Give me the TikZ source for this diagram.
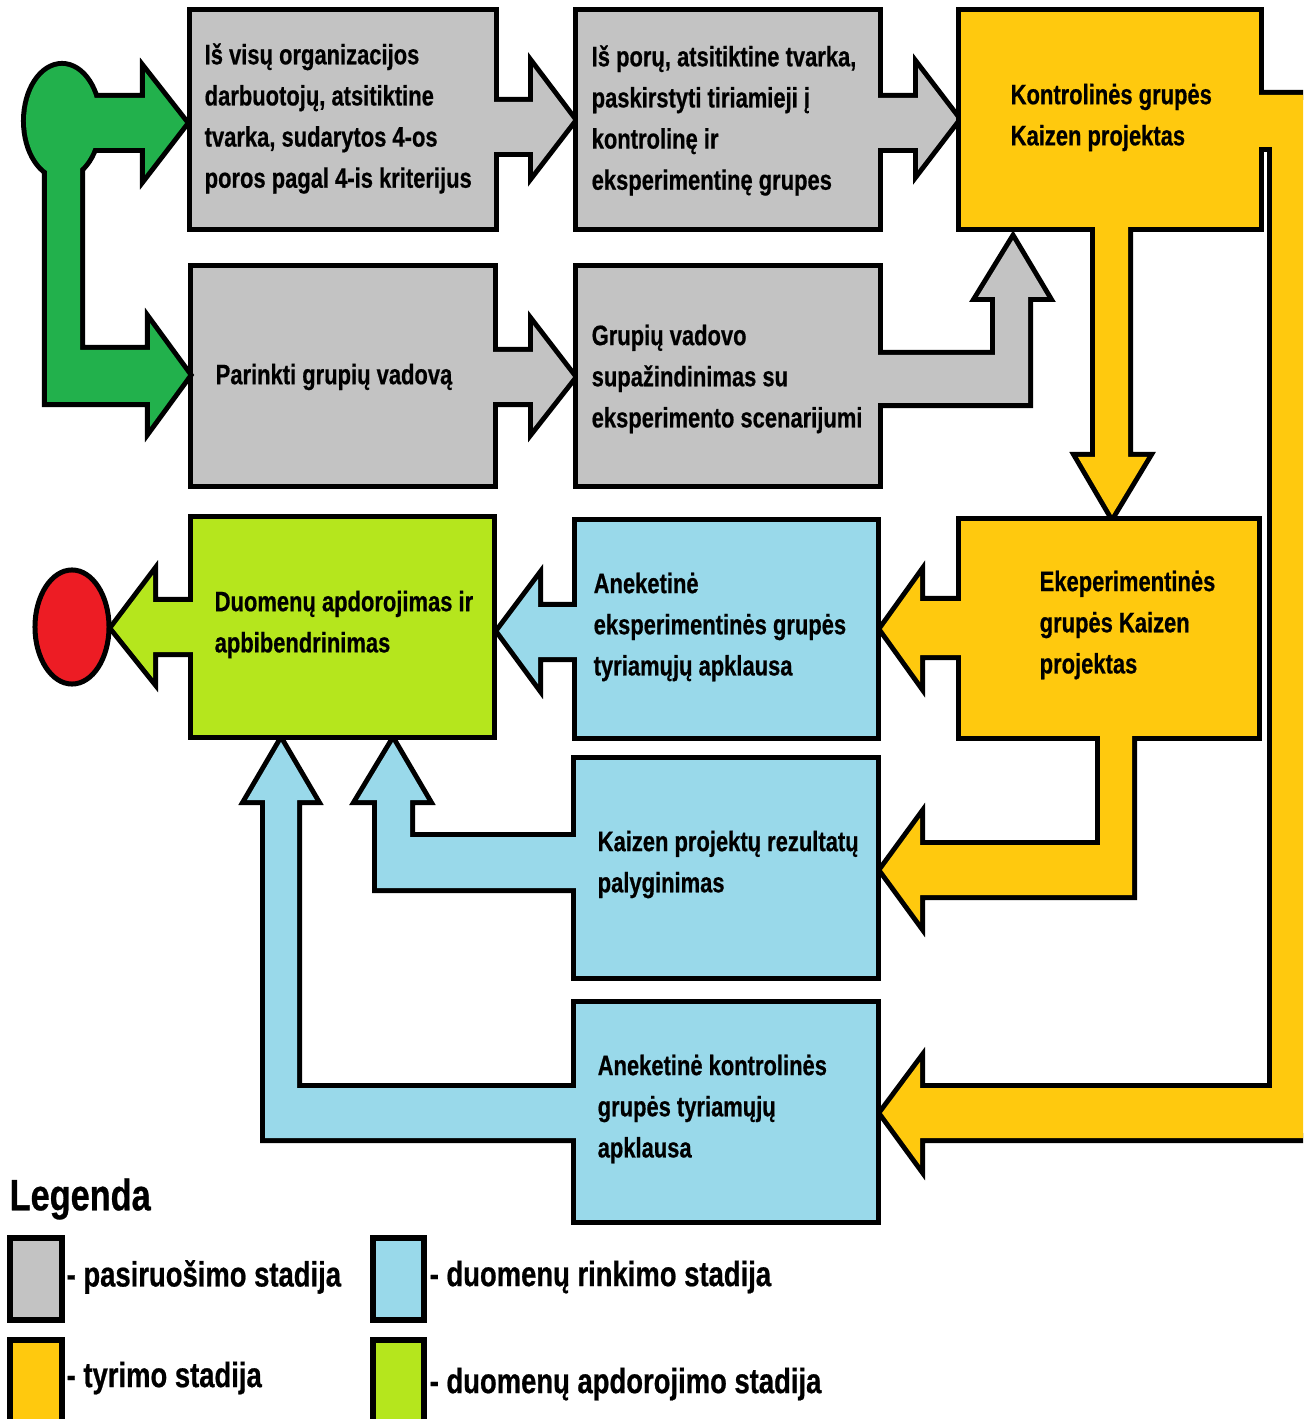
\documentclass[tikz,border=0pt]{standalone}
\usepackage{fontspec}
\setmainfont{Liberation Sans}[FakeStretch=0.78, BoldFeatures={FakeBold=0.6}]
\definecolor{cgray}{HTML}{C3C3C3}
\definecolor{cyel}{HTML}{FFC90E}
\definecolor{cblue}{HTML}{99D9EA}
\definecolor{clime}{HTML}{B5E61D}
\definecolor{cgreen}{HTML}{22B14C}
\definecolor{cred}{HTML}{ED1C24}
% union of two or three outlined parts: thick strokes first, then fills on top
\newcommand{\ushapeB}[3]{\draw[line width=0.1cm] #2; \draw[line width=0.1cm] #3; \fill[#1] #2; \fill[#1] #3;}
\newcommand{\ushapeC}[4]{\draw[line width=0.1cm] #2; \draw[line width=0.1cm] #3; \draw[line width=0.1cm] #4; \fill[#1] #2; \fill[#1] #3; \fill[#1] #4;}
\tikzset{
  boxn/.style={rectangle, draw=none, inner sep=0pt},
  txt/.style={anchor=west, align=left, inner sep=0pt, font=\bfseries\fontsize{8}{11.7}\selectfont},
  legtxt/.style={anchor=west, inner sep=0pt, font=\bfseries\fontsize{10}{12}\selectfont},
  legbox/.style={draw, line width=0.06cm}
}
\begin{document}
\begin{tikzpicture}[x=0.01cm, y=-0.01cm]
\useasboundingbox (0,0) rectangle (1303,1419);
\clip (0,0) rectangle (1303,1419);
\fill[white] (0,0) rectangle (1303,1419);
% box placeholders
\node[boxn, minimum width=3.00cm, minimum height=2.13cm] (g1) at (343,119.5) {};
\node[boxn, minimum width=2.98cm, minimum height=2.13cm] (g2) at (728,119.5) {};
\node[boxn, minimum width=2.96cm, minimum height=2.13cm] (y1) at (1110,119.5) {};
\node[boxn, minimum width=2.98cm, minimum height=2.14cm] (g3) at (343,376) {};
\node[boxn, minimum width=2.98cm, minimum height=2.14cm] (g4) at (728,376) {};
\node[boxn, minimum width=2.97cm, minimum height=2.14cm] (gr) at (342.5,627) {};
\node[boxn, minimum width=2.97cm, minimum height=2.12cm] (b1) at (726.5,629) {};
\node[boxn, minimum width=2.94cm, minimum height=2.13cm] (y2) at (1109,628.5) {};
\node[boxn, minimum width=2.98cm, minimum height=2.14cm] (b2) at (726,868) {};
\node[boxn, minimum width=2.98cm, minimum height=2.14cm] (b3) at (726,1112) {};

% gray 1 + arrow to gray 2
\ushapeB{cgray}{(g1.north west) rectangle (g1.south east)}
  {(480,102) -- (533,102) -- (533,67) -- (573,120) -- (533,172) -- (533,152) -- (480,152) -- cycle}
% gray 2 + arrow to yellow 1
\ushapeB{cgray}{(g2.north west) rectangle (g2.south east)}
  {(865,98) -- (918,98) -- (918,68) -- (957,119) -- (918,170) -- (918,148) -- (865,148) -- cycle}
% yellow 1 + arrows
\ushapeC{cyel}{(y1.north west) rectangle (y1.south east)}
  {(1095,215) -- (1095,457) -- (1078,457) -- (1112,515) -- (1147,457) -- (1128,457) -- (1128,215) -- cycle}
  {(1245,95) -- (1322,95) -- (1322,1138) -- (920,1138) -- (920,1165) -- (882,1113) -- (920,1062) -- (920,1088) -- (1272,1088) -- (1272,147) -- (1245,147) -- cycle}
% gray 3 + arrow
\ushapeB{cgray}{(g3.north west) rectangle (g3.south east)}
  {(480,352) -- (533,352) -- (533,325) -- (573,377) -- (533,428) -- (533,402) -- (480,402) -- cycle}
% gray 4 + up arrow
\ushapeB{cgray}{(g4.north west) rectangle (g4.south east)}
  {(865,355) -- (995,355) -- (995,297) -- (978,297) -- (1013,240) -- (1047,297) -- (1028,297) -- (1028,403) -- (865,403) -- cycle}
% yellow 2 + arrows
\ushapeC{cyel}{(y2.north west) rectangle (y2.south east)}
  {(1100,725) -- (1100,845) -- (920,845) -- (920,818) -- (882,870) -- (920,922) -- (920,895) -- (1132,895) -- (1132,725) -- cycle}
  {(975,601) -- (920,601) -- (920,576) -- (882,629) -- (920,682) -- (920,655) -- (975,655) -- cycle}
% blue 1 + arrow
\ushapeB{cblue}{(b1.north west) rectangle (b1.south east)}
  {(590,607) -- (538,607) -- (538,579) -- (499,631) -- (538,684) -- (538,657) -- (590,657) -- cycle}
% blue 2 + arrow
\ushapeB{cblue}{(b2.north west) rectangle (b2.south east)}
  {(590,837) -- (410,837) -- (410,800) -- (427,800) -- (393,742) -- (358,800) -- (377,800) -- (377,888) -- (590,888) -- cycle}
% blue 3 + arrow
\ushapeB{cblue}{(b3.north west) rectangle (b3.south east)}
  {(590,1088) -- (297,1088) -- (297,800) -- (315,800) -- (281,742) -- (247,800) -- (265,800) -- (265,1138) -- (590,1138) -- cycle}
% green box + arrow
\ushapeB{clime}{(gr.north west) rectangle (gr.south east)}
  {(205,602) -- (153,602) -- (153,575) -- (113,628) -- (153,678) -- (153,652) -- (205,652) -- cycle}
% start shape
\ushapeC{cgreen}{(62,121) ellipse [x radius=0.36cm, y radius=0.55cm]}
  {(62,98) -- (145,98) -- (145,72) -- (185,123) -- (145,175) -- (145,148) -- (62,148) -- cycle}
  {(47,150) -- (47,402) -- (150,402) -- (150,427) -- (188,375) -- (150,323) -- (150,350) -- (80,350) -- (80,150) -- cycle}
% end shape
\draw[line width=0.05cm, fill=cred] (72,627) ellipse [x radius=0.37cm, y radius=0.57cm];

% texts
\node[txt] (t1) at (204,118.5) {Iš visų organizacijos\\darbuotojų, atsitiktine\\tvarka, sudarytos 4-os\\poros pagal 4-is kriterijus};
\node[txt] (t2) at (591,120.5) {Iš porų, atsitiktine tvarka,\\paskirstyti tiriamieji į\\kontrolinę ir\\eksperimentinę grupes};
\node[txt] (t3) at (1010,117.5) {Kontrolinės grupės\\Kaizen projektas};
\node[txt] (t4) at (215,377) {Parinkti grupių vadovą};
\node[txt] (t5) at (591,379) {Grupių vadovo\\supažindinimas su\\eksperimento scenarijumi};
\node[txt] (t6) at (214,624.5) {Duomenų apdorojimas ir\\apbibendrinimas};
\node[txt] (t7) at (593,627) {Aneketinė\\eksperimentinės grupės\\tyriamųjų apklausa};
\node[txt] (t8) at (1039,625) {Ekeperimentinės\\grupės Kaizen\\projektas};
\node[txt] (t9) at (597,864.5) {Kaizen projektų rezultatų\\palyginimas};
\node[txt] (t10) at (597,1109) {Aneketinė kontrolinės\\grupės tyriamųjų\\apklausa};

% legend
\node[anchor=west, inner sep=0pt, font=\bfseries\fontsize{12.5}{14}\selectfont] (leg) at (9,1199) {Legenda};
\node[legbox, fill=cgray, minimum width=0.52cm, minimum height=0.82cm, inner sep=0pt] (lg1) at (36,1279) {};
\node[legbox, fill=cblue, minimum width=0.51cm, minimum height=0.82cm, inner sep=0pt] (lg2) at (398.5,1279) {};
\node[legbox, fill=cyel, minimum width=0.52cm, minimum height=0.90cm, inner sep=0pt] (lg3) at (36,1385) {};
\node[legbox, fill=clime, minimum width=0.51cm, minimum height=0.90cm, inner sep=0pt] (lg4) at (398.5,1385) {};
\node[legtxt] (l1) at (66,1277) {- pasiruošimo stadija};
\node[legtxt] (l2) at (429,1277) {- duomenų rinkimo stadija};
\node[legtxt] (l3) at (66,1378) {- tyrimo stadija};
\node[legtxt] (l4) at (429,1384) {- duomenų apdorojimo stadija};
\end{tikzpicture}
\end{document}
